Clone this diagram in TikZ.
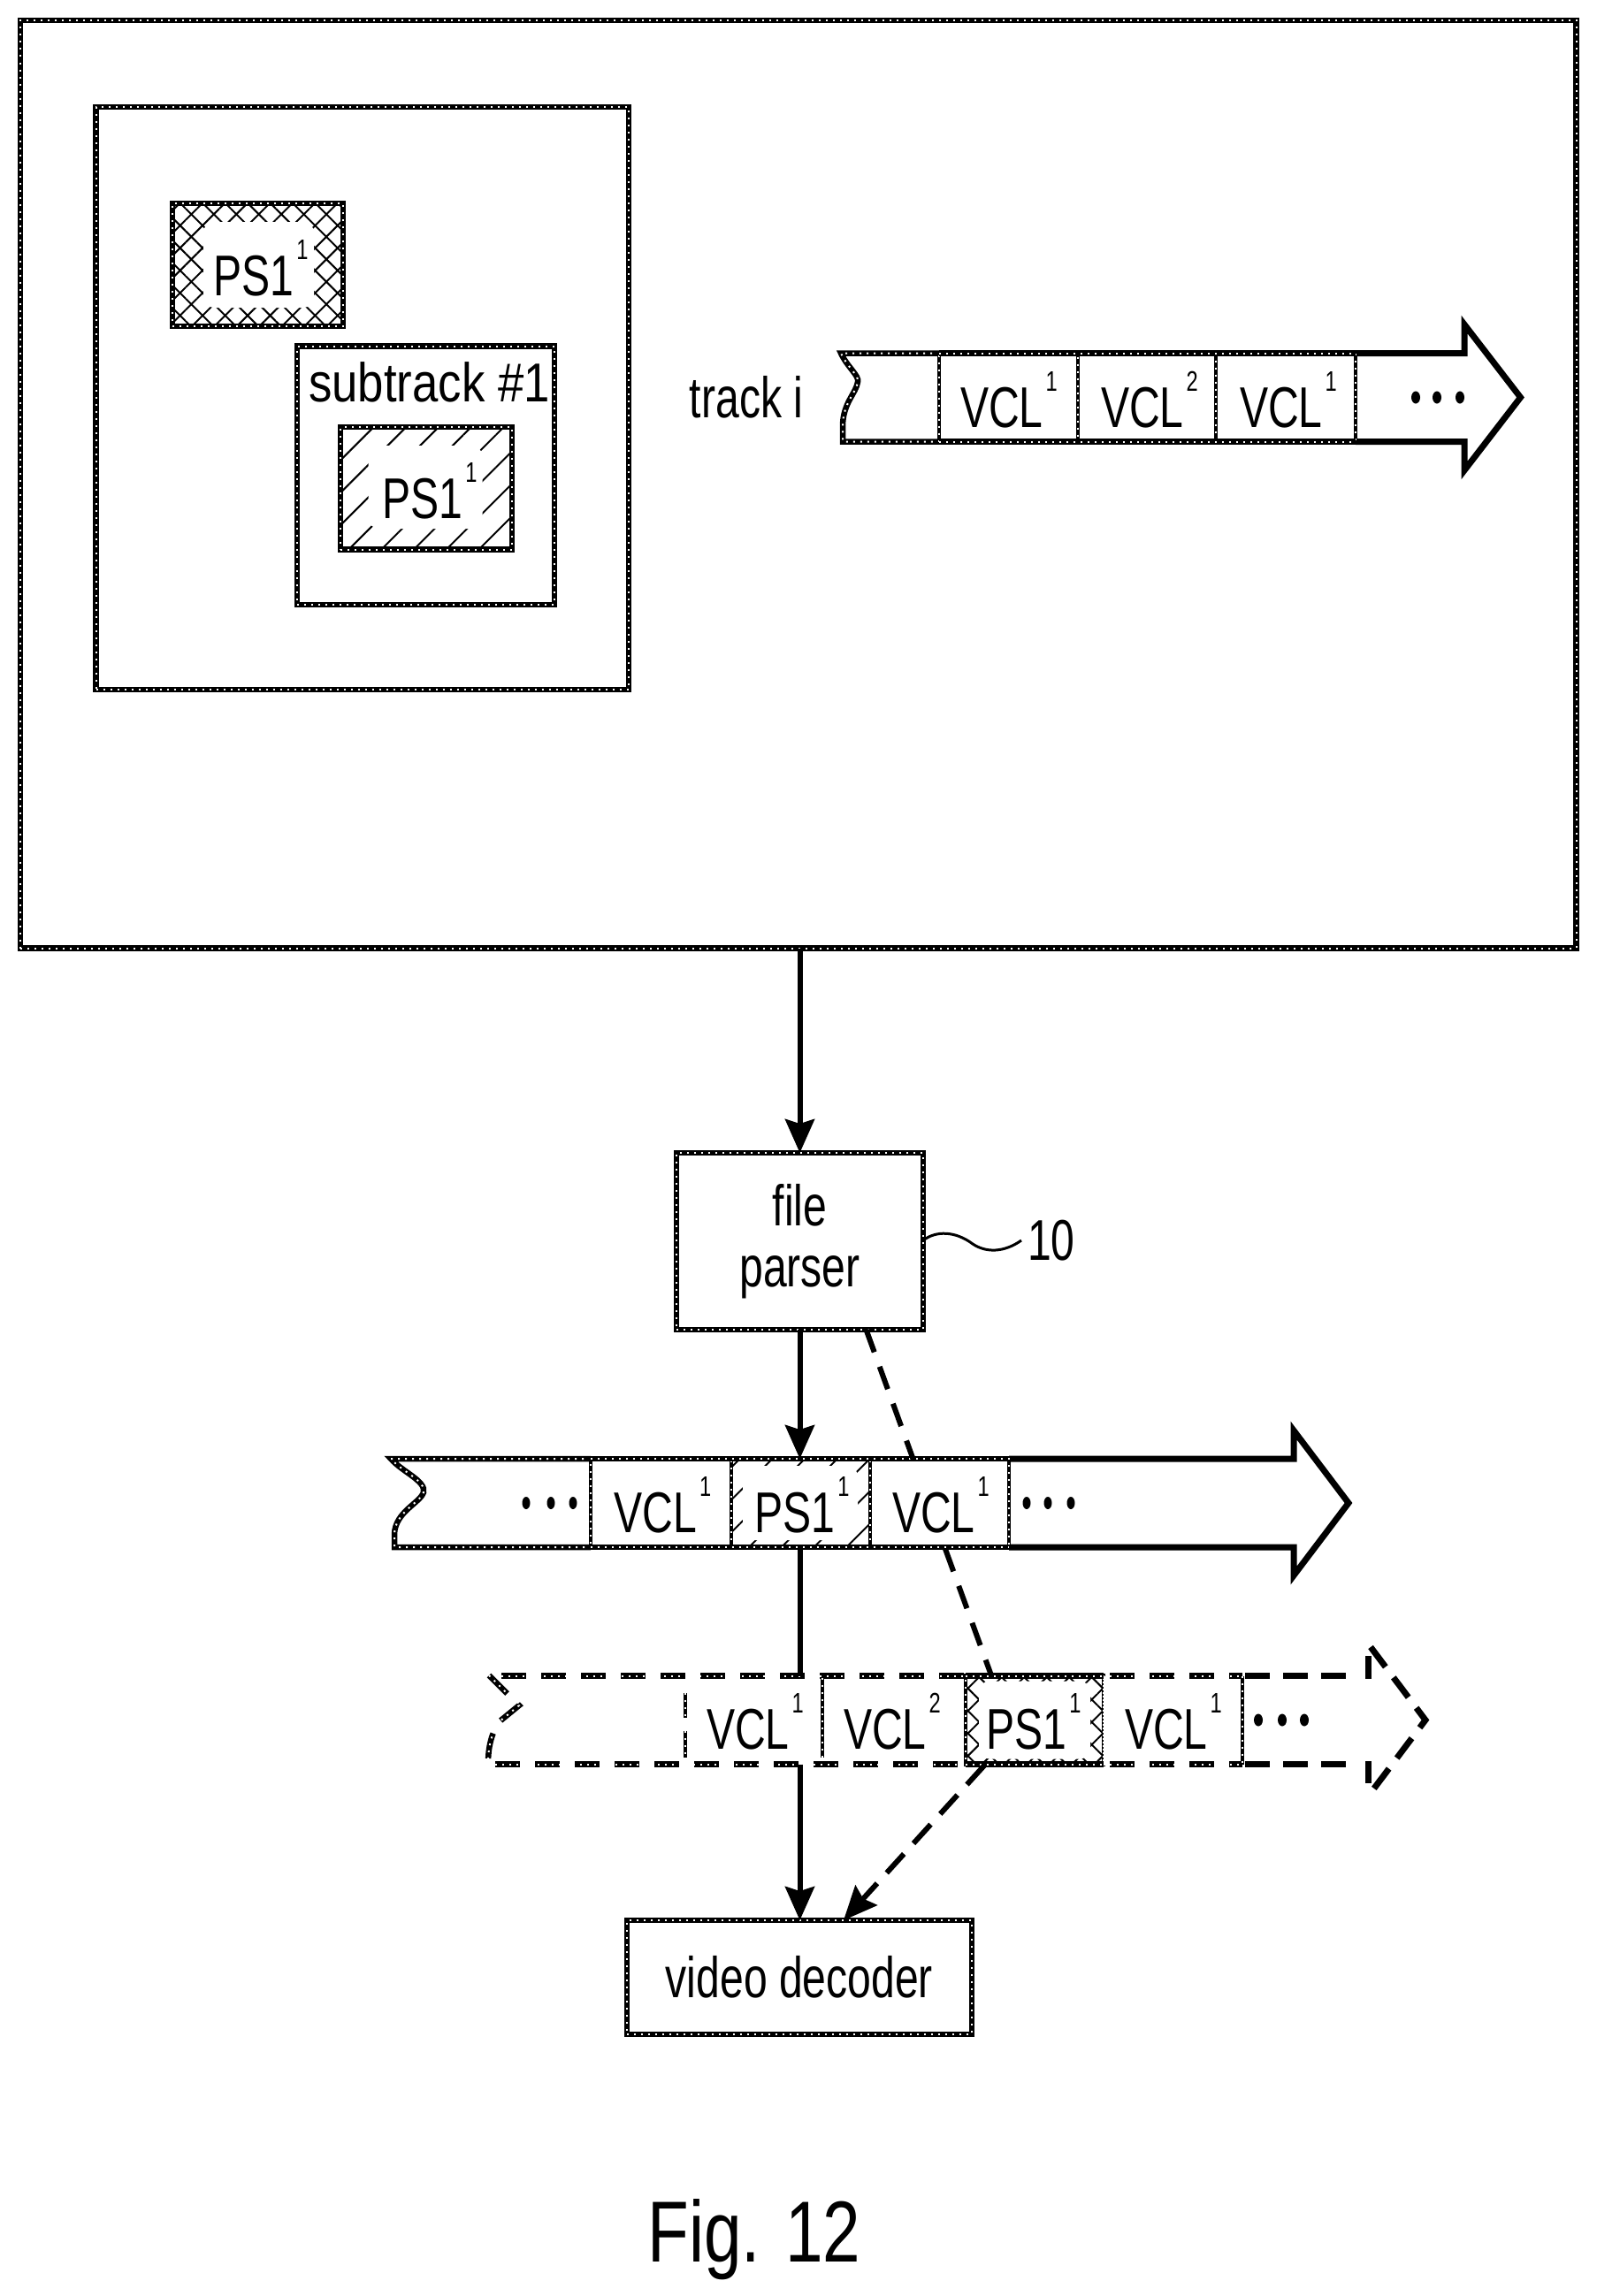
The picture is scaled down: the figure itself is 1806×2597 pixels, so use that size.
\documentclass[tikz,border=0pt]{standalone}
\usepackage{fontspec}
\usetikzlibrary{arrows.meta,patterns.meta}
\setmainfont[FakeStretch=0.74]{Liberation Sans}
\newfontfamily\subfont[FakeStretch=0.85]{Liberation Sans}
\newfontfamily\figfont[FakeStretch=0.78]{Liberation Sans}
\newcommand\lblsize{\fontsize{65}{69}\selectfont}
\newcommand\Sup[1]{\hspace{3pt}\raisebox{41pt}{\fontsize{32}{32}\selectfont #1}}
\tikzset{
  rope/.style={draw=black,line width=6.5pt,line join=miter,postaction={draw=white,line width=2pt,dash pattern=on 2pt off 6pt}},
  thinrope/.style={draw=black,line width=4.5pt,postaction={draw=white,line width=1.4pt,dash pattern=on 2pt off 6pt}},
  dashrope/.style={draw=black,line width=6.5pt,dash pattern=on 28pt off 17pt,postaction={draw=white,line width=2pt,dash pattern=on 2pt off 6pt}},
  boxst/.style={rectangle,inner sep=0pt,outer sep=0pt,rope},
  cellst/.style={rectangle,inner sep=0pt,outer sep=0pt,fill=white,thinrope},
  blankcell/.style={rectangle,inner sep=0pt,outer sep=0pt,fill=white},
  lbl/.style={anchor=base,inner sep=0pt,font=\lblsize},
  conn/.style={draw=black,line width=6pt},
  tip/.style={-{Stealth[length=38pt,width=33pt,inset=5pt]}},
  dconn/.style={draw=black,line width=6pt,dash pattern=on 27pt off 17.5pt},
  dconnb/.style={draw=black,line width=6pt,dash pattern=on 29pt off 16pt},
  heavy/.style={draw=black,line width=7pt,line join=miter,miter limit=10},
  dheavy/.style={draw=black,line width=7pt,line join=miter,miter limit=10,dash pattern=on 28pt off 15pt},
  xhatch/.style={pattern={Hatch[angle=45,distance=18pt,line width=2pt]}},
  lhatch/.style={pattern={Lines[angle=45,distance=26pt,line width=2pt]}},
  clearing/.style={fill=white,rectangle,rounded corners=12pt,inner sep=0pt},
}
\newcommand\rbox[7][]{%
  \pgfmathsetmacro\cxx{(#3+#4)/2}\pgfmathsetmacro\cyy{(#5+#6)/2}%
  \pgfmathsetmacro\ww{#4-#3}\pgfmathsetmacro\hh{#6-#5}%
  \node[boxst,#1,minimum width=\ww pt,minimum height=\hh pt] (#2) at (\cxx,\cyy) {#7};}
\begin{document}
\begin{tikzpicture}[x=1pt,y=-1pt]
\useasboundingbox (0,0) rectangle (1806,2597);
\fill[white] (0,0) rectangle (1806,2597);
% upper file box
\rbox{file}{23}{1782.5}{23}{1072.5}{}
\rbox{moov}{108.5}{711}{121}{780}{}
\rbox[xhatch]{psx}{195}{388}{230}{369}{}
\node[clearing,minimum width=125pt,minimum height=97pt] (psxc) at (292.5,299.5) {};
\node[lbl] (psxt) at (295,334) {PS1\Sup{1}};
\rbox{sub}{336}{627}{391.5}{684}{}
\node[anchor=base,inner sep=0pt] (subt) at (485.5,454) {\fontsize{62}{62}\subfont subtrack \#1};
\rbox[lhatch]{psh}{385}{579}{483}{621.5}{}
\node[clearing,minimum width=129pt,minimum height=94pt] (pshc) at (481,551) {};
\node[lbl] (psht) at (486,586) {PS1\Sup{1}};
% track i
\node[lbl] (tracki) at (844,472) {track i};
\draw[rope] (1062,399.5) -- (951,399.5) .. controls (958,415) and (972,425) .. (970,432) .. controls (968,445) and (954,455) .. (953,480) -- (953,499.5) -- (1062,499.5);
\draw[heavy] (1533,399.5) -- (1656,399.5) -- (1656,367) -- (1719.5,449.5) -- (1656,532) -- (1656,499.5) -- (1533,499.5);
\rbox[cellst]{a1}{1062}{1219}{399.5}{499.5}{}
\rbox[cellst]{a2}{1219}{1375}{399.5}{499.5}{}
\rbox[cellst]{a3}{1375}{1533}{399.5}{499.5}{}
\draw[rope] (1062,399.5) -- (1533,399.5) (1062,499.5) -- (1533,499.5);
\node[lbl] at (1141,483) {VCL\Sup{1}};
\node[lbl] at (1300,483) {VCL\Sup{2}};
\node[lbl] at (1457,483) {VCL\Sup{1}};
\foreach \x in {1601,1625,1651} \fill (\x,449.5) ellipse (5pt and 7pt);
% parser
\rbox[align=center,font=\lblsize]{fp}{765}{1044}{1304}{1504}{file\\parser}
\coordinate (sq) at (1155,1403);
\draw[line width=3pt] (fp.east |- sq) .. controls (1058,1392) and (1080,1392) .. (1100,1407) .. controls (1115,1417) and (1135,1417) .. (sq);
\node[lbl,anchor=base west] (ten) at (1162,1425) {10};
% video decoder
\rbox[font=\lblsize]{dec}{709}{1099}{2172}{2301}{video decoder}
% strip 1
\draw[rope] (668,1650) -- (442,1650) .. controls (455,1665) and (482,1675) .. (479,1688) .. controls (475,1700) and (447,1710) .. (446,1735) -- (446,1750) -- (668,1750);
\draw[heavy] (1141,1650) -- (1463,1650) -- (1463,1618) -- (1525,1700) -- (1463,1782) -- (1463,1750) -- (1141,1750);
\foreach \x in {595,623,648,1161,1185,1211} \fill (\x,1700) ellipse (4.5pt and 7pt);
\rbox[cellst]{b1}{668}{827}{1650}{1750}{}
\rbox[cellst,fill=none,lhatch]{b2}{827}{984}{1650}{1750}{}
\node[clearing,minimum width=130pt,minimum height=84pt] (b2c) at (905,1700) {};
\rbox[cellst]{b3}{984}{1141}{1650}{1750}{}
\draw[rope] (668,1650) -- (1141,1650) (668,1750) -- (1141,1750);
\node[lbl] at (749.5,1733) {VCL\Sup{1}};
\node[lbl] at (907,1733) {PS1\Sup{1}};
\node[lbl] at (1064,1733) {VCL\Sup{1}};
% strip 2 (dashed)
\draw[dashrope,dash pattern=on 29pt off 17pt] (553,1895) -- (587,1929) -- (565,1947) .. controls (556,1960) and (552,1975) .. (552,1995);
\rbox[blankcell,draw=none,postaction={}]{c1}{775}{930}{1895.5}{1995.5}{}
\rbox[blankcell,draw=none,postaction={}]{c2}{930}{1092}{1895.5}{1995.5}{}
\rbox[cellst,fill=none,xhatch]{c3}{1092}{1248}{1895.5}{1995.5}{}
\node[clearing,minimum width=126pt,minimum height=88pt] (c3c) at (1170,1945.5) {};
\rbox[blankcell,draw=none,postaction={}]{c4}{1248}{1405}{1895.5}{1995.5}{}
\draw[dashrope] (567,1895.5) -- (1092,1895.5);
\draw[dashrope] (560,1995.5) -- (1092,1995.5);
\draw[dashrope] (1255,1895.5) -- (1405,1895.5);
\draw[dashrope] (1255,1995.5) -- (1405,1995.5);
\draw[thinrope] (775,1915) -- (775,1943) (775,1958) -- (775,1988);
\draw[thinrope] (930,1898) -- (930,1988);
\draw[rope] (1092,1895.5) -- (1248,1895.5) (1092,1995.5) -- (1248,1995.5);
\draw[thinrope] (1405,1895.5) -- (1405,1995.5);
\draw[dheavy] (1408,1895.5) -- (1530,1895.5);
\draw[dheavy] (1408,1995.5) -- (1530,1995.5);
\draw[heavy] (1547,1873) -- (1547,1899);
\draw[heavy] (1547,1992) -- (1547,2017);
\draw[dheavy] (1550,1863) -- (1612,1945.5) -- (1550,2028);
\foreach \x in {1423,1450,1475} \fill (\x,1945.5) ellipse (5pt and 7pt);
\node[lbl] at (854,1978) {VCL\Sup{1}};
\node[lbl] at (1009,1978) {VCL\Sup{2}};
\node[lbl] at (1169,1978) {PS1\Sup{1}};
\node[lbl] at (1327,1978) {VCL\Sup{1}};
% connectors
\draw[conn,tip] (file.south -| fp.north) -- (fp.north);
\draw[conn,tip] (fp.south) -- (b2.north -| fp.south);
\draw[conn] (b2.south -| fp.south) -- (c1.north -| fp.south);
\draw[conn,tip] (c1.south -| fp.south) -- (dec.north -| fp.south);
\coordinate (dA) at (979.5,1504);
\coordinate (dB) at (1032.5,1650);
\coordinate (dC) at (1069,1752);
\coordinate (dD) at (1121,1895);
\coordinate (dE) at (1113,1997);
\coordinate (dF) at (954,2172);
\draw[dconn] (dA) -- (dB);
\draw[dconn] (dC) -- (dD);
\draw[dconnb,tip] (dE) -- (dF);
% caption
\node[anchor=base,inner sep=0pt] (fig) at (853,2558) {\fontsize{98}{98}\figfont Fig. 12};
\end{tikzpicture}
\end{document}
